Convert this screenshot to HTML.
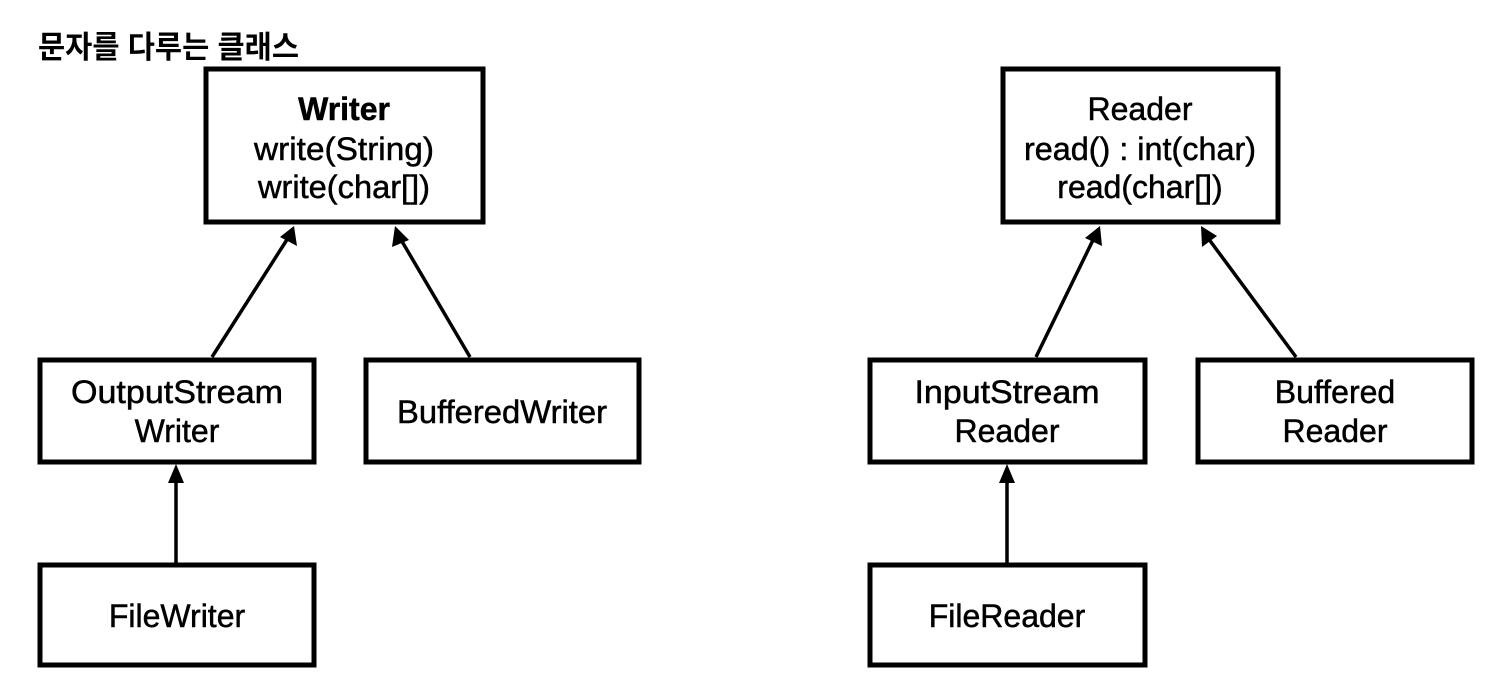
<!DOCTYPE html>
<html><head><meta charset="utf-8"><style>
html,body{margin:0;padding:0;background:#fff;}
svg{display:block}
text{font-family:"Liberation Sans","Noto Sans CJK KR",sans-serif;fill:#000;}
.t text{stroke:#000;stroke-width:0.5;}
</style></head><body>
<svg width="1496" height="688" viewBox="0 0 1496 688" xmlns="http://www.w3.org/2000/svg">
<rect width="1496" height="688" fill="#fff"/>
<text x="38" y="58" font-size="31" font-weight="bold" textLength="261" lengthAdjust="spacingAndGlyphs">문자를 다루는 클래스</text>

<g fill="none" stroke="#000" stroke-width="5">
<rect x="206" y="69" width="277" height="153"/>
<rect x="40" y="360" width="274" height="102"/>
<rect x="366" y="360" width="273" height="102"/>
<rect x="40" y="565" width="274" height="100"/>
<rect x="1003" y="69" width="275" height="153"/>
<rect x="870" y="360" width="275" height="102"/>
<rect x="1198" y="360" width="274" height="102"/>
<rect x="870" y="565" width="275" height="100"/>
</g>

<g stroke="#000" stroke-width="3.5" fill="none">
<line x1="212" y1="357" x2="288" y2="238"/>
<line x1="470" y1="357" x2="400" y2="238"/>
<line x1="176" y1="563" x2="176" y2="480"/>
<line x1="1036" y1="357" x2="1094" y2="238"/>
<line x1="1296" y1="357" x2="1208" y2="238"/>
<line x1="1007" y1="563" x2="1007" y2="480"/>
</g>
<g fill="#000">
<polygon points="294,226 297,246 280,237"/>
<polygon points="395,226 409,240 392,247"/>
<polygon points="176,464 184,483 168,483"/>
<polygon points="1100,226 1102,246 1085,238"/>
<polygon points="1201,226 1217,236 1202,247"/>
<polygon points="1007,464 1015,483 999,483"/>
</g>

<g font-size="32" text-anchor="middle" class="t">
<text x="344" y="120" font-weight="bold">Writer</text>
<text x="344" y="160" textLength="180" lengthAdjust="spacingAndGlyphs">write(String)</text>
<text x="344" y="198" textLength="172" lengthAdjust="spacingAndGlyphs">write(char[])</text>
<text x="177" y="403" textLength="212" lengthAdjust="spacingAndGlyphs">OutputStream</text>
<text x="177" y="442">Writer</text>
<text x="502" y="423" textLength="210" lengthAdjust="spacingAndGlyphs">BufferedWriter</text>
<text x="177" y="627">FileWriter</text>

<text x="1140" y="120">Reader</text>
<text x="1140" y="160" textLength="232" lengthAdjust="spacingAndGlyphs">read() : int(char)</text>
<text x="1140" y="198">read(char[])</text>
<text x="1007" y="403" textLength="185" lengthAdjust="spacingAndGlyphs">InputStream</text>
<text x="1007" y="442">Reader</text>
<text x="1335" y="403">Buffered</text>
<text x="1335" y="442">Reader</text>
<text x="1007" y="627">FileReader</text>
</g>
</svg>
</body></html>
